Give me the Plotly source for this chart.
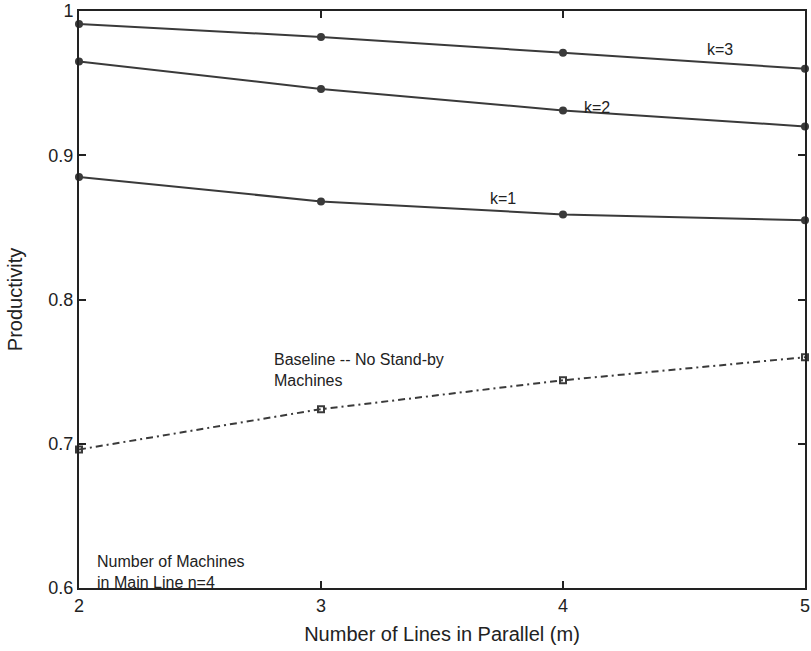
import plotly.graph_objects as go

m_lines = [2, 3, 4, 5]
k3 = [0.991, 0.982, 0.971, 0.960]
k2 = [0.965, 0.946, 0.931, 0.920]
k1 = [0.885, 0.868, 0.859, 0.855]
baseline = [0.696, 0.724, 0.744, 0.760]

y_tickvals = [0.6, 0.7, 0.8, 0.9, 1.0]
y_ticktext = ["0.6", "0.7", "0.8", "0.9", "1"]
x_tickvals = [2, 3, 4, 5]

LINE = "#3a3a3a"
AX = "#222222"
FONT = "Liberation Sans, Arial, Helvetica, sans-serif"

fig = go.Figure()
for ys in (k3, k2, k1):
    fig.add_trace(go.Scatter(
        x=m_lines, y=ys, mode="lines+markers",
        line=dict(color=LINE, width=2),
        marker=dict(symbol="circle", size=8, color=LINE),
        cliponaxis=False, showlegend=False))

fig.add_trace(go.Scatter(
    x=m_lines, y=baseline, mode="lines+markers",
    line=dict(color=LINE, width=2, dash="7px,4px,2px,4px"),
    marker=dict(symbol="square-open", size=6, color=LINE, line=dict(width=2, color=LINE)),
    cliponaxis=False, showlegend=False))

annots = [
    dict(x=4.65, y=0.973, text="k=3", xanchor="center", yanchor="middle"),
    dict(x=4.14, y=0.933, text="k=2", xanchor="center", yanchor="middle"),
    dict(x=3.75, y=0.870, text="k=1", xanchor="center", yanchor="middle"),
    dict(x=2.796, y=0.766, text="Baseline -- No Stand-by<br>Machines", xanchor="left", yanchor="top", align="left"),
    dict(x=2.065, y=0.626, text="Number of Machines<br>in Main Line n=4", xanchor="left", yanchor="top", align="left"),
]
for a in annots:
    fig.add_annotation(xref="x", yref="y", showarrow=False,
                       font=dict(family=FONT, size=16, color="#222"), **a)

fig.update_layout(
    width=811, height=651,
    margin=dict(l=79, r=1, t=10, b=63),
    paper_bgcolor="white", plot_bgcolor="white",
    font=dict(family=FONT, color="#222"),
)
fig.update_xaxes(
    range=[2, 5], tickvals=x_tickvals, ticks="inside", ticklen=7, tickwidth=1.5,
    tickcolor=AX, showline=True, linecolor=AX, linewidth=2, mirror="ticks",
    showgrid=False, zeroline=False, tickfont=dict(size=18, family=FONT, color="#222"),
    ticklabeloverflow="allow",
    title=dict(text="Number of Lines in Parallel (m)", font=dict(size=20, family=FONT, color="#222"), standoff=12),
)
fig.update_yaxes(
    range=[0.6, 1.0], tickvals=y_tickvals, ticktext=y_ticktext, ticks="inside", ticklen=7,
    tickwidth=1.5, tickcolor=AX, showline=True, linecolor=AX, linewidth=2, mirror="ticks",
    showgrid=False, zeroline=False, tickfont=dict(size=18, family=FONT, color="#222"),
    title=dict(text="Productivity", font=dict(size=20, family=FONT, color="#222"), standoff=20),
)

fig.write_html("out.html")
